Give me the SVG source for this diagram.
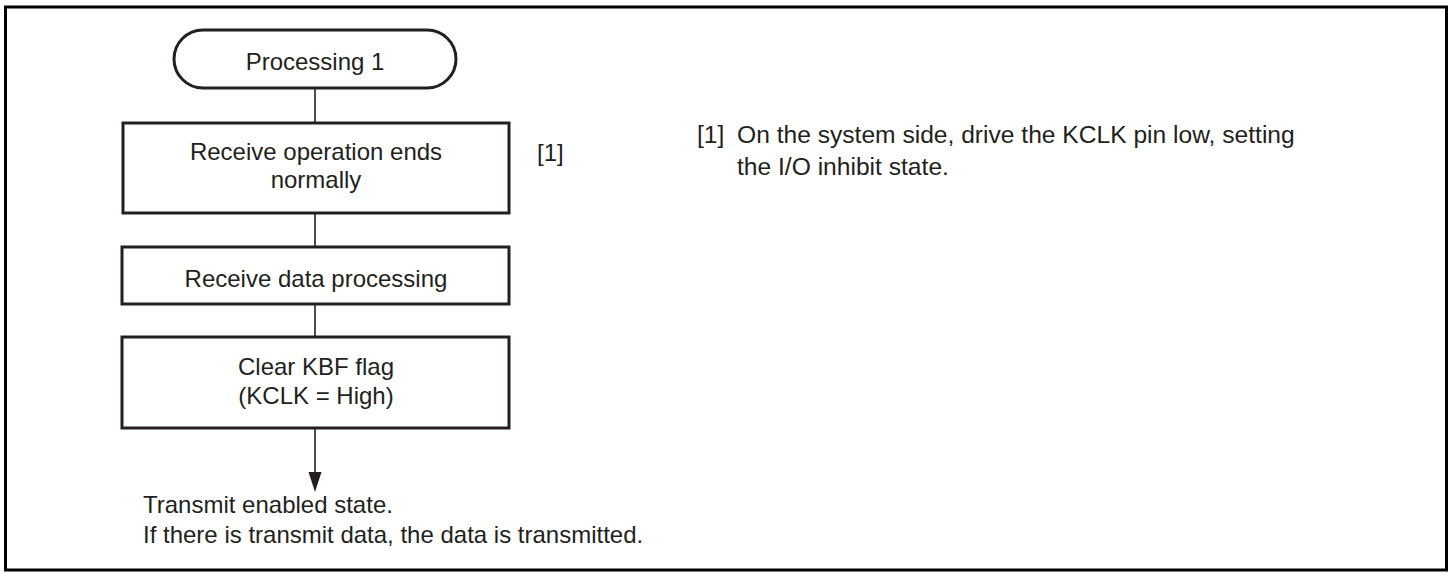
<svg xmlns="http://www.w3.org/2000/svg" width="1453" height="573" viewBox="0 0 1453 573">
<style>
text{font-family:"Liberation Sans",Arial,sans-serif;font-size:24px;fill:#231f20}
.c{text-anchor:middle}
.n{font-size:24.6px}
.box{fill:#fff;stroke:#231f20;stroke-width:3}
.ln{stroke:#231f20;stroke-width:1.6;fill:none}
</style>
<rect id="frame" x="5.5" y="7" width="1441" height="563" fill="#fff" stroke="#000" stroke-width="3"/>
<g id="connectors">
<line class="ln" x1="315" y1="88" x2="315" y2="123"/>
<line class="ln" x1="315" y1="213" x2="315" y2="247"/>
<line class="ln" x1="315" y1="304" x2="315" y2="337"/>
<path class="ln" d="M315,428 L315,472"/>
<path d="M308.5,472 L321.5,472 L315,492 Z" fill="#231f20"/>
</g>
<g id="start">
<rect class="box" x="174" y="30" width="282" height="58" rx="29" ry="29" stroke-width="2.5"/>
<text class="c" x="315" y="70">Processing 1</text>
</g>
<g id="step1">
<rect class="box" x="123" y="123" width="386" height="90"/>
<text class="c" x="316" y="160">Receive operation ends</text>
<text class="c" x="316" y="188">normally</text>
</g>
<g id="label1">
<text x="537" y="161">[1]</text>
</g>
<g id="step2">
<rect class="box" x="122" y="247" width="387" height="57"/>
<text class="c" x="316" y="287">Receive data processing</text>
</g>
<g id="step3">
<rect class="box" x="122" y="337" width="387" height="91"/>
<text class="c" x="316" y="375">Clear KBF flag</text>
<text class="c" x="316" y="404">(KCLK = High)</text>
</g>
<g id="end">
<text x="143" y="513">Transmit enabled state.</text>
<text x="143" y="543">If there is transmit data, the data is transmitted.</text>
</g>
<g id="note">
<text class="n" x="697" y="143">[1]</text>
<text class="n" x="737" y="143">On the system side, drive the KCLK pin low, setting</text>
<text class="n" x="737" y="175">the I/O inhibit state.</text>
</g>
</svg>
